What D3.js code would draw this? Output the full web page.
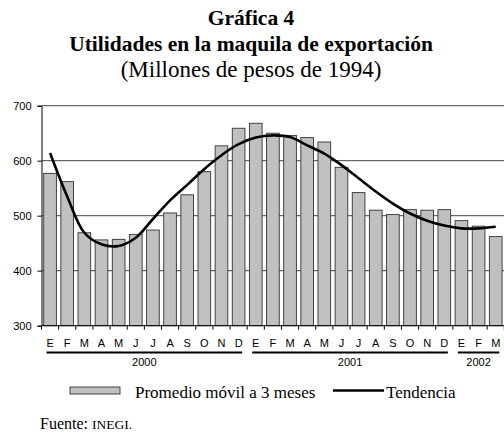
<!DOCTYPE html>
<html lang="es">
<head>
<meta charset="utf-8">
<title>Gráfica 4</title>
<script src="https://cdn.jsdelivr.net/npm/d3@7"></script>
<style>
  body { margin: 0; background: #fff; }
  text { fill: #000; }
</style>
</head>
<body>
<script>
// datos
var meses = ["E","F","M","A","M","J","J","A","S","O","N","D",
             "E","F","M","A","M","J","J","A","S","O","N","D",
             "E","F","M"];
var anios = ["2000", "2001", "2002"];
var mesesPorAnio = [12, 12, 3];
var promedio = [577, 562, 469, 456, 457, 466, 474, 505, 538, 580, 627, 659,
                668, 650, 646, 642, 634, 588, 542, 510, 502, 511, 510, 511,
                491, 481, 462];
var tendencia = [614, 535, 469, 448, 445, 460, 494, 528, 556, 585, 610, 630,
                 642, 646, 643, 628, 613, 592, 568, 544, 522, 504, 491, 482,
                 477, 477, 480];
var yTicks = [300, 400, 500, 600, 700];

var width = 504, height = 436;
var svg = d3.select("body").append("svg")
    .attr("width", width)
    .attr("height", height);

// titulos
svg.append("text").attr("x", 251).attr("y", 25)
    .attr("text-anchor", "middle")
    .style("font", "bold 21.5px 'Liberation Serif'")
    .text("Gráfica 4");
svg.append("text").attr("x", 251).attr("y", 51)
    .attr("text-anchor", "middle")
    .style("font", "bold 21.5px 'Liberation Serif'")
    .text("Utilidades en la maquila de exportación");
svg.append("text").attr("x", 251).attr("y", 77)
    .attr("text-anchor", "middle")
    .style("font", "23px 'Liberation Serif'")
    .text("(Millones de pesos de 1994)");

var idx = d3.range(meses.length);
var x = d3.scaleBand()
    .domain(idx)
    .range([41.5, 504.3])
    .paddingInner(0.26)
    .paddingOuter(0.13);
var y = d3.scaleLinear().domain([300, 700]).range([325.7, 105.7]);

// rejilla
svg.append("g").selectAll("line")
    .data(yTicks.slice(1))
    .enter().append("line")
    .attr("x1", 41.5).attr("x2", width)
    .attr("y1", function(d) { return y(d); })
    .attr("y2", function(d) { return y(d); })
    .attr("stroke", "#444")
    .attr("stroke-width", 1);

// barras
svg.append("g").selectAll("rect")
    .data(promedio)
    .enter().append("rect")
    .attr("x", function(d, i) { return x(i); })
    .attr("y", function(d) { return y(d); })
    .attr("width", x.bandwidth())
    .attr("height", function(d) { return y(300) - y(d); })
    .attr("fill", "#c0c0c0")
    .attr("stroke", "#333")
    .attr("stroke-width", 0.9);

// eje y
var yAxis = svg.append("g")
    .attr("transform", "translate(41.5,0)")
    .call(d3.axisLeft(y).tickValues(yTicks).tickSize(4).tickPadding(6));
yAxis.select(".domain").attr("stroke", "#000");
yAxis.selectAll("line").attr("stroke", "#000");
yAxis.selectAll("text").style("font", "11px 'Liberation Sans'");

// eje x
var step = x.step();
var x0 = x.range()[0];
svg.append("line")
    .attr("x1", 41.5).attr("x2", width)
    .attr("y1", y(300)).attr("y2", y(300))
    .attr("stroke", "#000");
svg.append("g").selectAll("line")
    .data(d3.range(meses.length + 1))
    .enter().append("line")
    .attr("x1", function(i) { return x0 + i * step; })
    .attr("x2", function(i) { return x0 + i * step; })
    .attr("y1", y(300)).attr("y2", y(300) + 4)
    .attr("stroke", "#000");
svg.append("g").selectAll("text")
    .data(meses)
    .enter().append("text")
    .attr("x", function(d, i) { return x(i) + x.bandwidth() / 2; })
    .attr("y", 347)
    .attr("text-anchor", "middle")
    .style("font", "11px 'Liberation Sans'")
    .text(function(d) { return d; });

// años
var inicio = 0;
anios.forEach(function(a, k) {
    var xa = x0 + inicio * step, xb = x0 + (inicio + mesesPorAnio[k]) * step;
    svg.append("line")
        .attr("x1", xa + 5).attr("x2", xb - 5)
        .attr("y1", 352.5).attr("y2", 352.5)
        .attr("stroke", "#000").attr("stroke-width", 2);
    svg.append("text")
        .attr("x", (xa + xb) / 2).attr("y", 366)
        .attr("text-anchor", "middle")
        .style("font", "11px 'Liberation Sans'")
        .text(a);
    inicio += mesesPorAnio[k];
});

// tendencia
var linea = d3.line()
    .x(function(d, i) { return x(i) + x.bandwidth() / 2; })
    .y(function(d) { return y(d); })
    .curve(d3.curveCatmullRom);
svg.append("path")
    .attr("d", linea(tendencia))
    .attr("fill", "none")
    .attr("stroke", "#000")
    .attr("stroke-width", 2.6);

// leyenda
svg.append("rect").attr("x", 70).attr("y", 387).attr("width", 50).attr("height", 7)
    .attr("fill", "#c0c0c0").attr("stroke", "#333").attr("stroke-width", 0.9);
svg.append("text").attr("x", 135).attr("y", 398)
    .style("font", "17px 'Liberation Serif'")
    .text("Promedio móvil a 3 meses");
svg.append("line").attr("x1", 333).attr("x2", 384).attr("y1", 390.5).attr("y2", 390.5)
    .attr("stroke", "#000").attr("stroke-width", 2.6);
svg.append("text").attr("x", 386).attr("y", 398)
    .style("font", "17px 'Liberation Serif'")
    .text("Tendencia");

// fuente
var f = svg.append("text").attr("x", 40).attr("y", 429)
    .style("font", "16px 'Liberation Serif'");
f.append("tspan").text("Fuente: ");
f.append("tspan").style("font-size", "13.5px").text("INEGI.");
</script>
</body>
</html>
